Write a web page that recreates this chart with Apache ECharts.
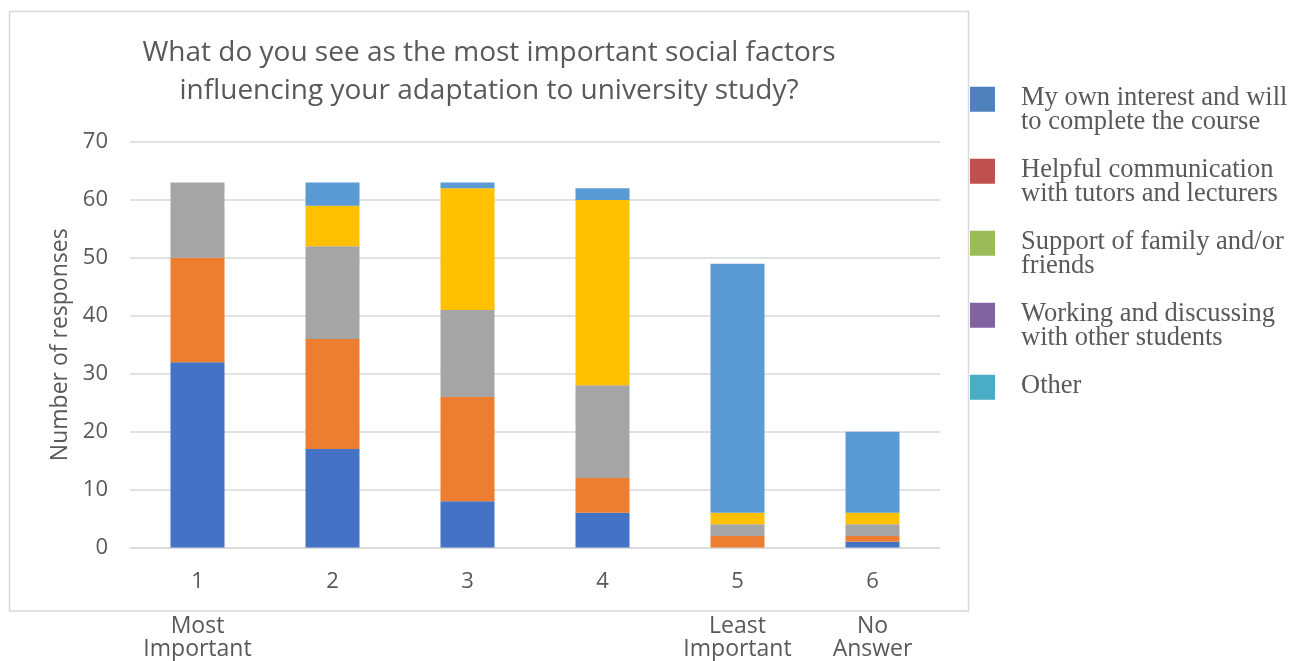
<!DOCTYPE html>
<html>
<head>
<meta charset="utf-8">
<script src="https://cdn.jsdelivr.net/npm/echarts@6/dist/echarts.min.js"></script>
<style>
html,body{margin:0;padding:0;background:#fff;}
#chart{width:1305px;height:661px;}
</style>
</head>
<body>
<div id="chart"></div>
<script>
// ---- data ----
const categories = ['1', '2', '3', '4', '5', '6'];
const categoryNotes = ['Most\nImportant', '', '', '', 'Least\nImportant', 'No\nAnswer'];
const seriesNames = [
  'My own interest and will to complete the course',
  'Helpful communication with tutors and lecturers',
  'Support of family and/or friends',
  'Working and discussing with other students',
  'Other'
];
const legendLabels = [
  'My own interest and will\nto complete the course',
  'Helpful communication\nwith tutors and lecturers',
  'Support of family and/or\nfriends',
  'Working and discussing\nwith other students',
  'Other\n '
];
const ownInterest   = [32, 17, 8, 6, 0, 1];
const communication = [18, 19, 18, 6, 2, 1];
const familySupport = [13, 16, 15, 16, 2, 2];
const otherStudents = [0, 7, 21, 32, 2, 2];
const otherFactor   = [0, 4, 1, 2, 43, 14];
const yTicks = { min: 0, max: 70, interval: 10 };

const barColors = ['#4472C4', '#ED7D31', '#A5A5A5', '#FFC000', '#5B9BD5'];
const legendColors = ['#4F81BD', '#C0504D', '#9BBB59', '#8064A2', '#4BACC6'];
const seriesData = [ownInterest, communication, familySupport, otherStudents, otherFactor];

const chart = echarts.init(document.getElementById('chart'));
const sans = '"Open Sans", "Noto Sans", sans-serif';
const serif = '"Liberation Serif", "DejaVu Serif", serif';

const option = {
  animation: false,
  backgroundColor: '#fff',
  title: {
    text: 'What do you see as the most important social factors\ninfluencing your adaptation to university study?',
    left: 489,
    top: 34,
    padding: 0,
    textAlign: 'center',
    textStyle: { fontFamily: sans, fontSize: 28, fontWeight: 'normal', color: '#595959', lineHeight: 38 }
  },
  graphic: [{
    type: 'rect',
    shape: { x: 9.5, y: 11.5, width: 959, height: 599.5 },
    style: { fill: 'none', stroke: '#D9D9D9', lineWidth: 1.5 },
    z: 0, silent: true
  }],
  legend: {
    orient: 'vertical',
    left: 970,
    top: 85,
    padding: 0,
    itemGap: 21.5,
    itemWidth: 46,
    itemHeight: 47,
    icon: 'path://M0,0h25v25h-25z M46,47h0.01v-0.01h-0.01z',
    data: seriesNames.map((n, i) => ({ name: n, itemStyle: { color: legendColors[i] } })),
    formatter: name => legendLabels[seriesNames.indexOf(name)],
    textStyle: { fontFamily: serif, fontSize: 26.5, color: '#595959', lineHeight: 23.5 }
  },
  grid: { left: 130, right: 365, top: 142, bottom: 113 },
  xAxis: {
    type: 'category',
    data: categories,
    axisLine: { lineStyle: { color: '#D9D9D9', width: 1.5 } },
    axisTick: { show: false },
    axisLabel: {
      margin: 22.5,
      formatter: (v, i) => {
        const note = categoryNotes[i];
        if (!note) return '{n|' + v + '}';
        return '{n|' + v + '}\n{s| }\n' + note.split('\n').map(t => '{d|' + t + '}').join('\n');
      },
      rich: {
        n: { fontFamily: sans, fontSize: 22, color: '#595959', lineHeight: 24 },
        s: { fontSize: 8, lineHeight: 21 },
        d: { fontFamily: sans, fontSize: 23, color: '#595959', lineHeight: 23 }
      }
    }
  },
  yAxis: {
    type: 'value',
    min: yTicks.min, max: yTicks.max, interval: yTicks.interval,
    name: 'Number of responses',
    nameLocation: 'middle',
    nameGap: 54,
    nameTextStyle: { fontFamily: sans, fontSize: 23, color: '#595959' },
    axisLine: { show: false },
    axisTick: { show: false },
    axisLabel: { margin: 22, fontFamily: sans, fontSize: 22, color: '#595959' },
    splitLine: { lineStyle: { color: '#D9D9D9', width: 1.5 } }
  },
  series: seriesNames.map((n, i) => ({
    name: n,
    type: 'bar',
    stack: 'total',
    barWidth: '40%',
    data: seriesData[i],
    itemStyle: { color: barColors[i] }
  }))
};
chart.setOption(option);
</script>
</body>
</html>
